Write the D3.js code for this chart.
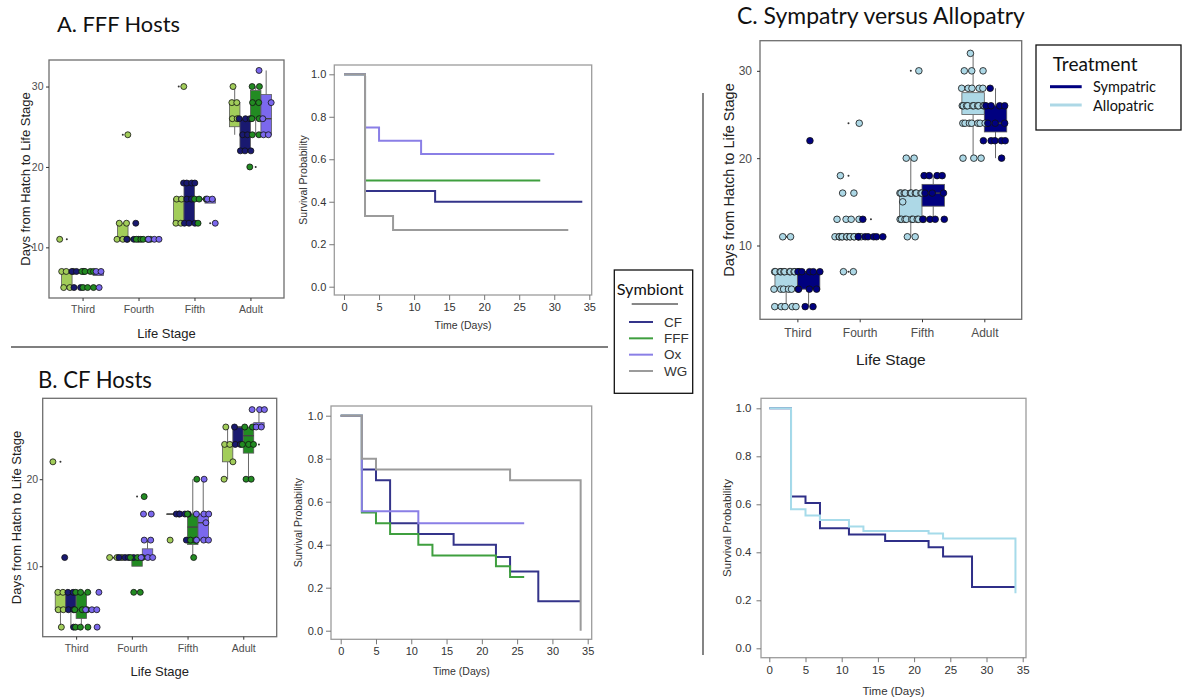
<!DOCTYPE html>
<html><head><meta charset="utf-8">
<script src="https://cdn.jsdelivr.net/npm/d3@7"></script>
<style>body{margin:0;background:#fff}svg{display:block}</style>
</head><body>
<svg id="c" width="1183" height="700"></svg>
<script>
// ---------------- DATA ----------------
const stages = ["Third", "Fourth", "Fifth", "Adult"];
const symbionts = ["CF", "FFF", "Ox", "WG"];            // legend order
const boxGroupsAB = ["WG", "CF", "FFF", "Ox"];          // dodge order in box plots A & B
const treatments = ["Sympatric", "Allopatric"];         // legend order
const boxGroupsC = ["Allopatric", "Sympatric"];         // dodge order in box plot C
const yTicksA = [10, 20, 30];
const yTicksB = [10, 20];
const yTicksC = [10, 20, 30];
const survXTicks = [0, 5, 10, 15, 20, 25, 30, 35];
const survYTicks = [0, 0.2, 0.4, 0.6, 0.8, 1.0];

// box stats per stage: [lower whisker, q1, median, q3, upper whisker]
const boxA_WG  = [[5,5,7,7,7],[11,11,11,13,13],[13,13,16,16,16],[24,25,26,28,30]];
const boxA_CF  = [[7,7,7,7,7],[11,11,11,11,11],[13,13,16,18,18],[22,22,24,26,26]];
const boxA_FFF = [[7,7,7,7,7],[11,11,11,11,11],[16,16,16,16,16],[24,26,28,29.5,30]];
const boxA_Ox  = [[6.5,6.5,7,7,7],[11,11,11,11,11],[15.5,15.5,16,16,16],[24,24,26,29,32]];
const outA_WG  = [[11],[24],[30],[]];
const outA_CF  = [[],[],[],[]];
const outA_FFF = [[],[],[],[20]];
const outA_Ox  = [[],[],[13],[]];
const ptsA_WG  = [[7,7,7,5,5,11],[13,13,11,11,11,24],[16,16,13,13,30],[30,28,28,26,26]];
const ptsA_CF  = [[7,7,7,5,5],[11,11,11,13],[18,18,18,18,16,16,13,13,13],[26,26,26,24,24,22,22,22]];
const ptsA_FFF = [[7,7,7,7,5,5,5],[11,11,11,11,11],[16,16,16,13],[30,30,28,28,26,26,24,24,20]];
const ptsA_Ox  = [[7,7,5],[11,11,11],[16,16,13],[32,28,26,24,24]];

const boxB_WG  = [[3,5,5,7,7],[11,11,11,11,11],[16,16,16,16,16],[20,22,24,24,26]];
const boxB_CF  = [[3,5,5,7,7],[11,11,11,11,11],[16,16,16,16,16],[24,24,26,26,26]];
const boxB_FFF = [[3,4,5,7,7],[10,10,11,11,11],[11,12.5,14.5,16,20],[20,23,25,26,26]];
const boxB_Ox  = [[5,5,5,5,5],[11,11,11,12,13],[13,13,15,16,20],[26,26,26,26.5,28]];
const outB_WG  = [[22],[],[13],[]];
const outB_CF  = [[],[],[],[]];
const outB_FFF = [[],[18],[],[]];
const outB_Ox  = [[],[],[],[24]];
const ptsB_WG  = [[7,7,5,5,3,22],[11,11,11],[16,13],[26,24,24,22,20]];
const ptsB_CF  = [[7,7,5,5,3,11],[11,11,11,11],[16,16,16,16,13],[26,24,24]];
const ptsB_FFF = [[7,7,7,5,5,5,3,3,3],[11,11,11,18,7,7],[20,16,13,13,11],[26,26,24,24,24,20,20]];
const ptsB_Ox  = [[7,5,5,5,3],[13,13,16,16,11,11,11],[20,16,16,16,15,13,13,13],[28,28,28,26,26]];

const boxC_Allo = [[3,5,7,7,7],[11,11,11,11,11],[11,13,16,16,20],[20,25,26,27.5,32]];
const boxC_Sym  = [[3,5,7,7,7],[11,11,11,11,11],[13,14.5,16,17,18],[20,23,24,26,28]];
const outC_Allo = [[11],[24,18,7],[30],[]];
const outC_Sym  = [[22],[13],[],[]];
const ptsC_Allo = [
  [7,7,7,7,7,7,7,7,7,7,7,5,5,5,5,5,5,3,3,3,3,3,11,11],
  [11,11,11,11,11,11,11,11,11,11,11,11,11,11,13,13,13,13,16,16,18,24,7,7],
  [16,16,16,16,16,16,16,16,16,16,13,13,13,13,13,13,13,13,13,15,11,11,20,20,30],
  [32,30,30,30,28,28,28,28,28,26,26,26,26,26,26,26,26,26,26,24,24,24,24,24,24,24,20,20,20]
];
const ptsC_Sym = [
  [7,7,7,7,7,5,5,5,3,3,22],
  [11,11,11,11,11,11,13],
  [18,18,18,18,16,16,16,13,13,13,13],
  [28,26,26,26,26,24,24,24,22,22,22,22,22,20]
];

// survival curves (time in days, survival probability)
const tA_CF  = [0,3,13,34],            sA_CF  = [1,0.45,0.4,0.4];
const tA_FFF = [0,3,28],               sA_FFF = [1,0.5,0.5];
const tA_Ox  = [0,3,5,11,30],          sA_Ox  = [1,0.75,0.6875,0.625,0.625];
const tA_WG  = [0,3,7,32],             sA_WG  = [1,0.333,0.267,0.267];
const tB_CF  = [0,3,5,7,11,16,22,24,28,34], sB_CF = [1,0.75,0.7,0.5,0.45,0.4,0.343,0.275,0.1375,0.1375];
const tB_FFF = [0,3,5,7,11,13,22,24,26],    sB_FFF = [1,0.55,0.5,0.45,0.4,0.35,0.3,0.25,0.25];
const tB_Ox  = [0,3,11,26],            sB_Ox  = [1,0.556,0.5,0.5];
const tB_WG  = [0,3,5,24,34,34],       sB_WG  = [1,0.8,0.75,0.7,0.7,0];
const tC_Sym  = [0,3,5,7,11,16,22,24,28,34], sC_Sym  = [1,0.632,0.605,0.5,0.474,0.447,0.421,0.382,0.255,0.255];
const tC_Allo = [0,3,5,7,11,13,22,24,34,34], sC_Allo = [1,0.579,0.553,0.535,0.507,0.489,0.478,0.457,0.457,0.229];

// ---------------- STYLE ----------------
const AX = "'Liberation Sans', Arial, sans-serif";
const CAL = "Lato, 'Open Sans', sans-serif";
const boxFill = {WG:"#a2cd5a", CF:"#191970", FFF:"#228b22", Ox:"#7b68ee", Allopatric:"#add8e6", Sympatric:"#000080"};
const lineCol = {CF:"#34348a", FFF:"#3f9f3f", Ox:"#8a7fe6", WG:"#9b9b9b", Sympatric:"#2f2f88", Allopatric:"#a6dbea"};
const jitterPattern = [0.45,-0.6,0.8,-0.2,0.1,-0.85,0.6,-0.4,0.3,-0.7];

const svg = d3.select("#c");

function fitText(t, w) {
  const cur = t.node().getComputedTextLength();
  if (cur > 0) t.attr("font-size", parseFloat(t.attr("font-size")) * w / cur);
  return t;
}

function spread(values, J, seed) {
  const counts = d3.rollup(values, v => v.length, d => d);
  const seen = new Map();
  return values.map((v, i) => {
    const n = counts.get(v), k = seen.get(v) || 0;
    seen.set(v, k + 1);
    let off;
    if (n === 1) off = jitterPattern[(i + seed) % jitterPattern.length] * J;
    else off = (-1 + 2 * (k + 0.5) / n) * J * (n === 2 ? 0.7 : 1) + jitterPattern[(seed + i) % 10] * 0.12 * J;
    return {v, off};
  });
}

function boxPanel(o) {
  const g = svg.append("g");
  const x = d3.scalePoint().domain(stages).range([o.x0, o.x1]).padding(0.6);
  const step = x.step();
  const inner = d3.scaleBand().domain(o.groups).range([-o.dodge * step / 2, o.dodge * step / 2]);
  const bw = inner.bandwidth();
  const y = d3.scaleLinear().domain(o.yDomain).range([o.y1, o.y0]);

  g.append("rect").attr("x", o.x0).attr("y", o.y0).attr("width", o.x1 - o.x0).attr("height", o.y1 - o.y0)
    .attr("fill", "none").attr("stroke", "#6e6e6e").attr("stroke-width", 1.3);

  const xa = g.append("g").attr("transform", `translate(0,${o.y1})`)
    .call(d3.axisBottom(x).tickSize(3).tickPadding(o.xPad));
  const ya = g.append("g").attr("transform", `translate(${o.x0},0)`)
    .call(d3.axisLeft(y).tickValues(o.yTicks).tickSize(3).tickPadding(o.yPad));
  [xa, ya].forEach(a => {
    a.select(".domain").remove();
    a.selectAll("line").attr("stroke", "#333");
    a.selectAll("text").attr("font-family", AX).attr("font-size", o.tickFs).attr("fill", "#4d4d4d");
  });

  // boxes + whiskers
  o.groups.forEach(gr => {
    o.box[gr].forEach((st, i) => {
      const [lo, q1, med, q3, hi] = st;
      const cx = x(stages[i]) + inner(gr) + bw / 2;
      g.append("line").attr("x1", cx).attr("x2", cx).attr("y1", y(q3)).attr("y2", y(hi)).attr("stroke", "#6a6a6a").attr("stroke-width", 1);
      g.append("line").attr("x1", cx).attr("x2", cx).attr("y1", y(q1)).attr("y2", y(lo)).attr("stroke", "#6a6a6a").attr("stroke-width", 1);
      g.append("rect").attr("x", cx - bw / 2).attr("y", y(q3)).attr("width", bw)
        .attr("height", Math.max(0.5, y(q1) - y(q3))).attr("fill", boxFill[gr])
        .attr("stroke", "#5a5a5a").attr("stroke-width", 0.8);
      g.append("line").attr("x1", cx - bw / 2).attr("x2", cx + bw / 2).attr("y1", y(med)).attr("y2", y(med))
        .attr("stroke", "#444").attr("stroke-width", 1.4);
      o.out[gr][i].forEach(v => {
        g.append("circle").attr("cx", cx).attr("cy", y(v)).attr("r", 1).attr("fill", "#333");
      });
    });
  });
  // jittered points
  let seed = 0;
  o.groups.forEach(gr => {
    o.pts[gr].forEach((vals, i) => {
      const cx = x(stages[i]) + inner(gr) + bw / 2;
      spread(vals, o.jit * bw, seed++).forEach(p => {
        g.append("circle").attr("cx", cx + p.off).attr("cy", y(p.v)).attr("r", o.r)
          .attr("fill", boxFill[gr]).attr("stroke", "#111").attr("stroke-width", 0.8);
      });
    });
  });
  // titles
  g.append("text").attr("x", (o.x0 + o.x1) / 2).attr("y", o.xTitleY).attr("text-anchor", "middle")
    .attr("dominant-baseline", "central").attr("font-family", AX).attr("font-size", o.titleFs)
    .attr("fill", "#222").text("Life Stage");
  g.append("text").attr("transform", `translate(${o.yTitleX},${(o.y0 + o.y1) / 2}) rotate(-90)`)
    .attr("text-anchor", "middle").attr("dominant-baseline", "central").attr("font-family", AX)
    .attr("font-size", o.yTitleFs).attr("fill", "#222").text("Days from Hatch to Life Stage");
}

function survPanel(o) {
  const g = svg.append("g");
  const x = d3.scaleLinear().domain([0, 35]).range([o.x0d, o.x35]);
  const y = d3.scaleLinear().domain([0, 1]).range([o.y0v, o.y1v]);
  g.append("rect").attr("x", o.fx0).attr("y", o.fy0).attr("width", o.fx1 - o.fx0).attr("height", o.fy1 - o.fy0)
    .attr("fill", "none").attr("stroke", "#9c9c9c").attr("stroke-width", 1.3);
  const xa = g.append("g").attr("transform", `translate(0,${o.fy1})`)
    .call(d3.axisBottom(x).tickValues(survXTicks).tickSize(o.tick).tickPadding(o.xPad));
  const ya = g.append("g").attr("transform", `translate(${o.fx0},0)`)
    .call(d3.axisLeft(y).tickValues(survYTicks).tickFormat(d3.format(".1f")).tickSize(o.tick).tickPadding(o.yPad));
  [xa, ya].forEach(a => {
    a.select(".domain").remove();
    a.selectAll("line").attr("stroke", "#777");
    a.selectAll("text").attr("font-family", AX).attr("font-size", o.tickFs).attr("fill", "#333");
  });
  const line = d3.line().x(d => x(d[0])).y(d => y(d[1])).curve(d3.curveStepAfter);
  o.curves.forEach(c => {
    g.append("path").attr("d", line(d3.zip(c.t, c.s))).attr("fill", "none")
      .attr("stroke", lineCol[c.k]).attr("stroke-width", 2);
  });
  g.append("text").attr("x", (o.fx0 + o.fx1) / 2).attr("y", o.xTitleY).attr("text-anchor", "middle")
    .attr("dominant-baseline", "central").attr("font-family", AX).attr("font-size", o.titleFs)
    .attr("fill", "#333").text("Time (Days)");
  g.append("text").attr("transform", `translate(${o.yTitleX},${(o.fy0 + o.fy1) / 2}) rotate(-90)`)
    .attr("text-anchor", "middle").attr("dominant-baseline", "central").attr("font-family", AX)
    .attr("font-size", o.titleFs).attr("fill", "#333").text("Survival Probability");
}

// ---------------- PANEL TITLES ----------------
fitText(svg.append("text").attr("x", 57).attr("y", 32).attr("font-family", CAL).attr("font-size", 20).attr("fill", "#111").text("A. FFF Hosts"), 123);
fitText(svg.append("text").attr("x", 38).attr("y", 388).attr("font-family", CAL).attr("font-size", 20).attr("fill", "#111").text("B. CF Hosts"), 114);
fitText(svg.append("text").attr("x", 737).attr("y", 24).attr("font-family", CAL).attr("font-size", 22).attr("fill", "#111").text("C. Sympatry versus Allopatry"), 288);

// ---------------- BOX PLOTS ----------------
boxPanel({x0:49, x1:284, y0:60, y1:298, yDomain:[3.7,33.3], yTicks:yTicksA, groups:boxGroupsAB, dodge:0.75,
  box:{WG:boxA_WG, CF:boxA_CF, FFF:boxA_FFF, Ox:boxA_Ox}, out:{WG:outA_WG, CF:outA_CF, FFF:outA_FFF, Ox:outA_Ox},
  pts:{WG:ptsA_WG, CF:ptsA_CF, FFF:ptsA_FFF, Ox:ptsA_Ox}, jit:0.8, r:3,
  tickFs:10.5, xPad:5, yPad:2.5, titleFs:13, yTitleFs:13, xTitleY:333, yTitleX:25});

boxPanel({x0:42.7, x1:276.7, y0:398.3, y1:636.7, yDomain:[1.9,29.3], yTicks:yTicksB, groups:boxGroupsAB, dodge:0.75,
  box:{WG:boxB_WG, CF:boxB_CF, FFF:boxB_FFF, Ox:boxB_Ox}, out:{WG:outB_WG, CF:outB_CF, FFF:outB_FFF, Ox:outB_Ox},
  pts:{WG:ptsB_WG, CF:ptsB_CF, FFF:ptsB_FFF, Ox:ptsB_Ox}, jit:0.85, r:3,
  tickFs:10.5, xPad:4.5, yPad:1.5, titleFs:13, yTitleFs:13, xTitleY:671.7, yTitleX:16});

boxPanel({x0:760, x1:1021.7, y0:40.7, y1:319.3, yDomain:[1.55,33.45], yTicks:yTicksC, groups:boxGroupsC, dodge:0.72,
  box:{Allopatric:boxC_Allo, Sympatric:boxC_Sym}, out:{Allopatric:outC_Allo, Sympatric:outC_Sym},
  pts:{Allopatric:ptsC_Allo, Sympatric:ptsC_Sym}, jit:0.6, r:3.3,
  tickFs:12, xPad:6, yPad:5, titleFs:15.5, yTitleFs:14.5, xTitleY:359.3, yTitleX:729.3});

// ---------------- SURVIVAL PLOTS ----------------
survPanel({fx0:334.3, fx1:591.7, fy0:65, fy1:295, x0d:344, x35:589.3, y0v:286.7, y1v:74.3,
  tick:5, xPad:3, yPad:3, tickFs:11, titleFs:10.5, xTitleY:325, yTitleX:303,
  curves:[{k:"CF",t:tA_CF,s:sA_CF},{k:"FFF",t:tA_FFF,s:sA_FFF},{k:"Ox",t:tA_Ox,s:sA_Ox},{k:"WG",t:tA_WG,s:sA_WG}]});

survPanel({fx0:331, fx1:591.7, fy0:406, fy1:639.3, x0d:340.7, x35:587.7, y0v:630.7, y1v:415.7,
  tick:5, xPad:3, yPad:3, tickFs:11, titleFs:10.5, xTitleY:670.7, yTitleX:298,
  curves:[{k:"CF",t:tB_CF,s:sB_CF},{k:"FFF",t:tB_FFF,s:sB_FFF},{k:"Ox",t:tB_Ox,s:sB_Ox},{k:"WG",t:tB_WG,s:sB_WG}]});

survPanel({fx0:761, fx1:1026, fy0:398.3, fy1:657.7, x0d:769.3, x35:1022.7, y0v:648.3, y1v:408.3,
  tick:4.5, xPad:4, yPad:5, tickFs:11.5, titleFs:11.5, xTitleY:691, yTitleX:727,
  curves:[{k:"Sympatric",t:tC_Sym,s:sC_Sym},{k:"Allopatric",t:tC_Allo,s:sC_Allo}]});

// ---------------- DIVIDERS ----------------
svg.append("line").attr("x1", 11).attr("x2", 608).attr("y1", 347).attr("y2", 347).attr("stroke", "#555").attr("stroke-width", 1.5);
svg.append("line").attr("x1", 703).attr("x2", 703).attr("y1", 93).attr("y2", 655).attr("stroke", "#666").attr("stroke-width", 1.6);

// ---------------- LEGENDS ----------------
const lg1 = svg.append("g");
lg1.append("rect").attr("x", 614.3).attr("y", 270).attr("width", 78.4).attr("height", 123.3)
  .attr("fill", "#fff").attr("stroke", "#111").attr("stroke-width", 1.3);
fitText(lg1.append("text").attr("x", 616.7).attr("y", 295).attr("font-family", CAL).attr("font-size", 16)
  .attr("fill", "#111").text("Symbiont"), 67);
lg1.append("line").attr("x1", 631.7).attr("x2", 678).attr("y1", 304).attr("y2", 304).attr("stroke", "#111").attr("stroke-width", 1);
const lgY = d3.scalePoint().domain(symbionts).range([322, 371]);
symbionts.forEach(s => {
  lg1.append("line").attr("x1", 629).attr("x2", 653).attr("y1", lgY(s)).attr("y2", lgY(s))
    .attr("stroke", lineCol[s]).attr("stroke-width", 2);
  lg1.append("text").attr("x", 664).attr("y", lgY(s)).attr("dominant-baseline", "central")
    .attr("font-family", AX).attr("font-size", 13.5).attr("fill", "#333").text(s);
});

const lg2 = svg.append("g");
lg2.append("rect").attr("x", 1036).attr("y", 45).attr("width", 145).attr("height", 85)
  .attr("fill", "#fff").attr("stroke", "#111").attr("stroke-width", 1.3);
fitText(lg2.append("text").attr("x", 1052.7).attr("y", 71).attr("font-family", CAL).attr("font-size", 18)
  .attr("fill", "#111").text("Treatment"), 85);
const lgY2 = d3.scalePoint().domain(treatments).range([86.7, 105]);
treatments.forEach(t => {
  lg2.append("line").attr("x1", 1050).attr("x2", 1081.7).attr("y1", lgY2(t)).attr("y2", lgY2(t))
    .attr("stroke", boxFill[t]).attr("stroke-width", 3);
  lg2.append("text").attr("x", 1093).attr("y", lgY2(t)).attr("dominant-baseline", "central")
    .attr("font-family", CAL).attr("font-size", 14.5).attr("fill", "#111").text(t);
});
</script>
</body></html>
